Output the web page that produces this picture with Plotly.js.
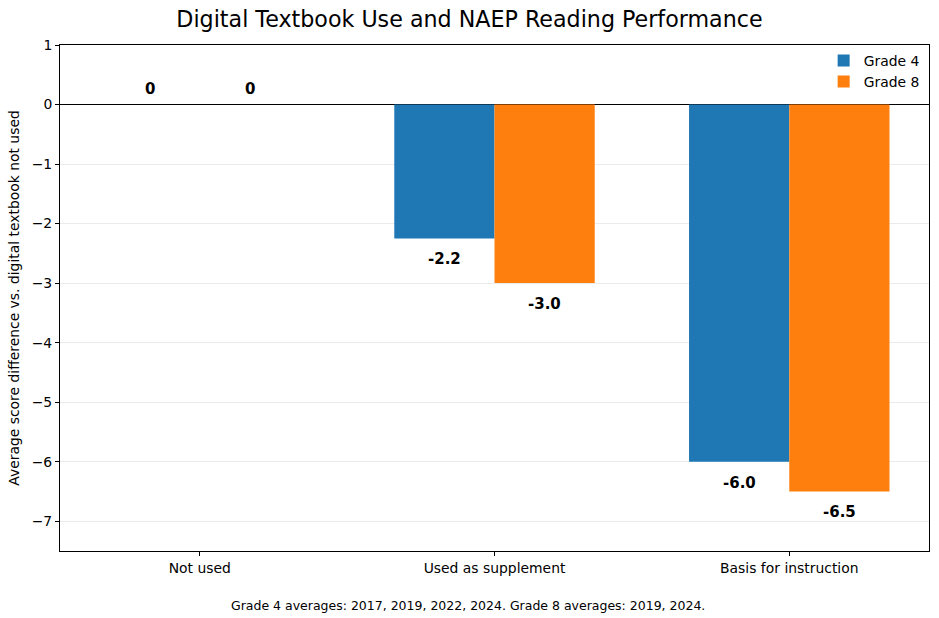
<!DOCTYPE html>
<html>
<head>
<meta charset="utf-8">
<script src="https://cdn.plot.ly/plotly-3.0.1.min.js"></script>
<style>html,body{margin:0;padding:0;background:#fff;}#chart{width:939px;height:618px;}</style>
</head>
<body>
<div id="chart"></div>
<script>
const categories = ["Not used", "Used as supplement", "Basis for instruction"];
const grade4Values = [0, -2.25, -6.0];
const grade8Values = [0, -3.0, -6.5];
const grade4Labels = ["0", "-2.2", "-6.0"];
const grade8Labels = ["0", "-3.0", "-6.5"];
const yTicks = [-7, -6, -5, -4, -3, -2, -1, 0, 1];
const yTickLabels = ["\u22127", "\u22126", "\u22125", "\u22124", "\u22123", "\u22122", "\u22121", "0", "1"];

const FONT = "DejaVu Sans, sans-serif";
const X_RANGE = [-0.474, 2.474];
const barPx = 0.34 * 869 / (X_RANGE[1] - X_RANGE[0]);

const traces = [
  {type: "bar", name: "Grade 4", x: categories, y: grade4Values, marker: {color: "#1f77b4"}},
  {type: "bar", name: "Grade 8", x: categories, y: grade8Values, marker: {color: "#ff7f0e"}}
];

const annotations = [];
function addLabels(vals, labels, shift) {
  vals.forEach((v, i) => {
    annotations.push({
      x: categories[i], y: v, xref: "x", yref: "y",
      text: "<b>" + labels[i] + "</b>", showarrow: false,
      xshift: shift,
      yanchor: v < 0 ? "top" : "bottom",
      yshift: v < 0 ? -10 : 5,
      font: {family: FONT, size: 15, color: "#000"}
    });
  });
}
addLabels(grade4Values, grade4Labels, -barPx / 2);
addLabels(grade8Values, grade8Labels, barPx / 2);
annotations.push({
  xref: "paper", yref: "paper", x: 0.47, y: -0.088, yanchor: "top",
  text: "Grade 4 averages: 2017, 2019, 2022, 2024. Grade 8 averages: 2019, 2024.",
  showarrow: false, font: {family: FONT, size: 12.5, color: "#000"}
});

const layout = {
  width: 939, height: 618,
  margin: {l: 60, r: 10, t: 45, b: 67},
  paper_bgcolor: "#fff", plot_bgcolor: "#fff",
  font: {family: FONT, size: 13.9, color: "#000"},
  title: {text: "Digital Textbook Use and NAEP Reading Performance", x: 0.5, xanchor: "center", y: 0.969, yanchor: "middle",
    font: {family: FONT, size: 22.2, color: "#000"}},
  barmode: "group", bargap: 0.32, bargroupgap: 0,
  showlegend: true,
  legend: {x: 0.995, y: 1.0, xanchor: "right", yanchor: "top", bgcolor: "rgba(255,255,255,0)",
    font: {family: FONT, size: 13.9}, traceorder: "normal"},
  xaxis: {type: "category", range: X_RANGE, showline: true, mirror: true, linecolor: "#000", linewidth: 1,
    ticks: "outside", ticklen: 4, tickcolor: "#000", showgrid: false, zeroline: false,
    tickfont: {family: FONT, size: 13.9}},
  yaxis: {range: [-7.5, 1], tickvals: yTicks, ticktext: yTickLabels, showline: true, mirror: true, linecolor: "#000", linewidth: 1,
    ticks: "outside", ticklen: 4, tickcolor: "#000", showgrid: true, gridcolor: "rgba(0,0,0,0.08)",
    zeroline: true, zerolinecolor: "#000", zerolinewidth: 1.5,
    title: {text: "Average score difference vs. digital textbook not used", font: {family: FONT, size: 13.9}, standoff: 8},
    tickfont: {family: FONT, size: 13.9}},
  annotations: annotations
};

Plotly.newPlot("chart", traces, layout, {displayModeBar: false, staticPlot: true});
</script>
</body>
</html>
